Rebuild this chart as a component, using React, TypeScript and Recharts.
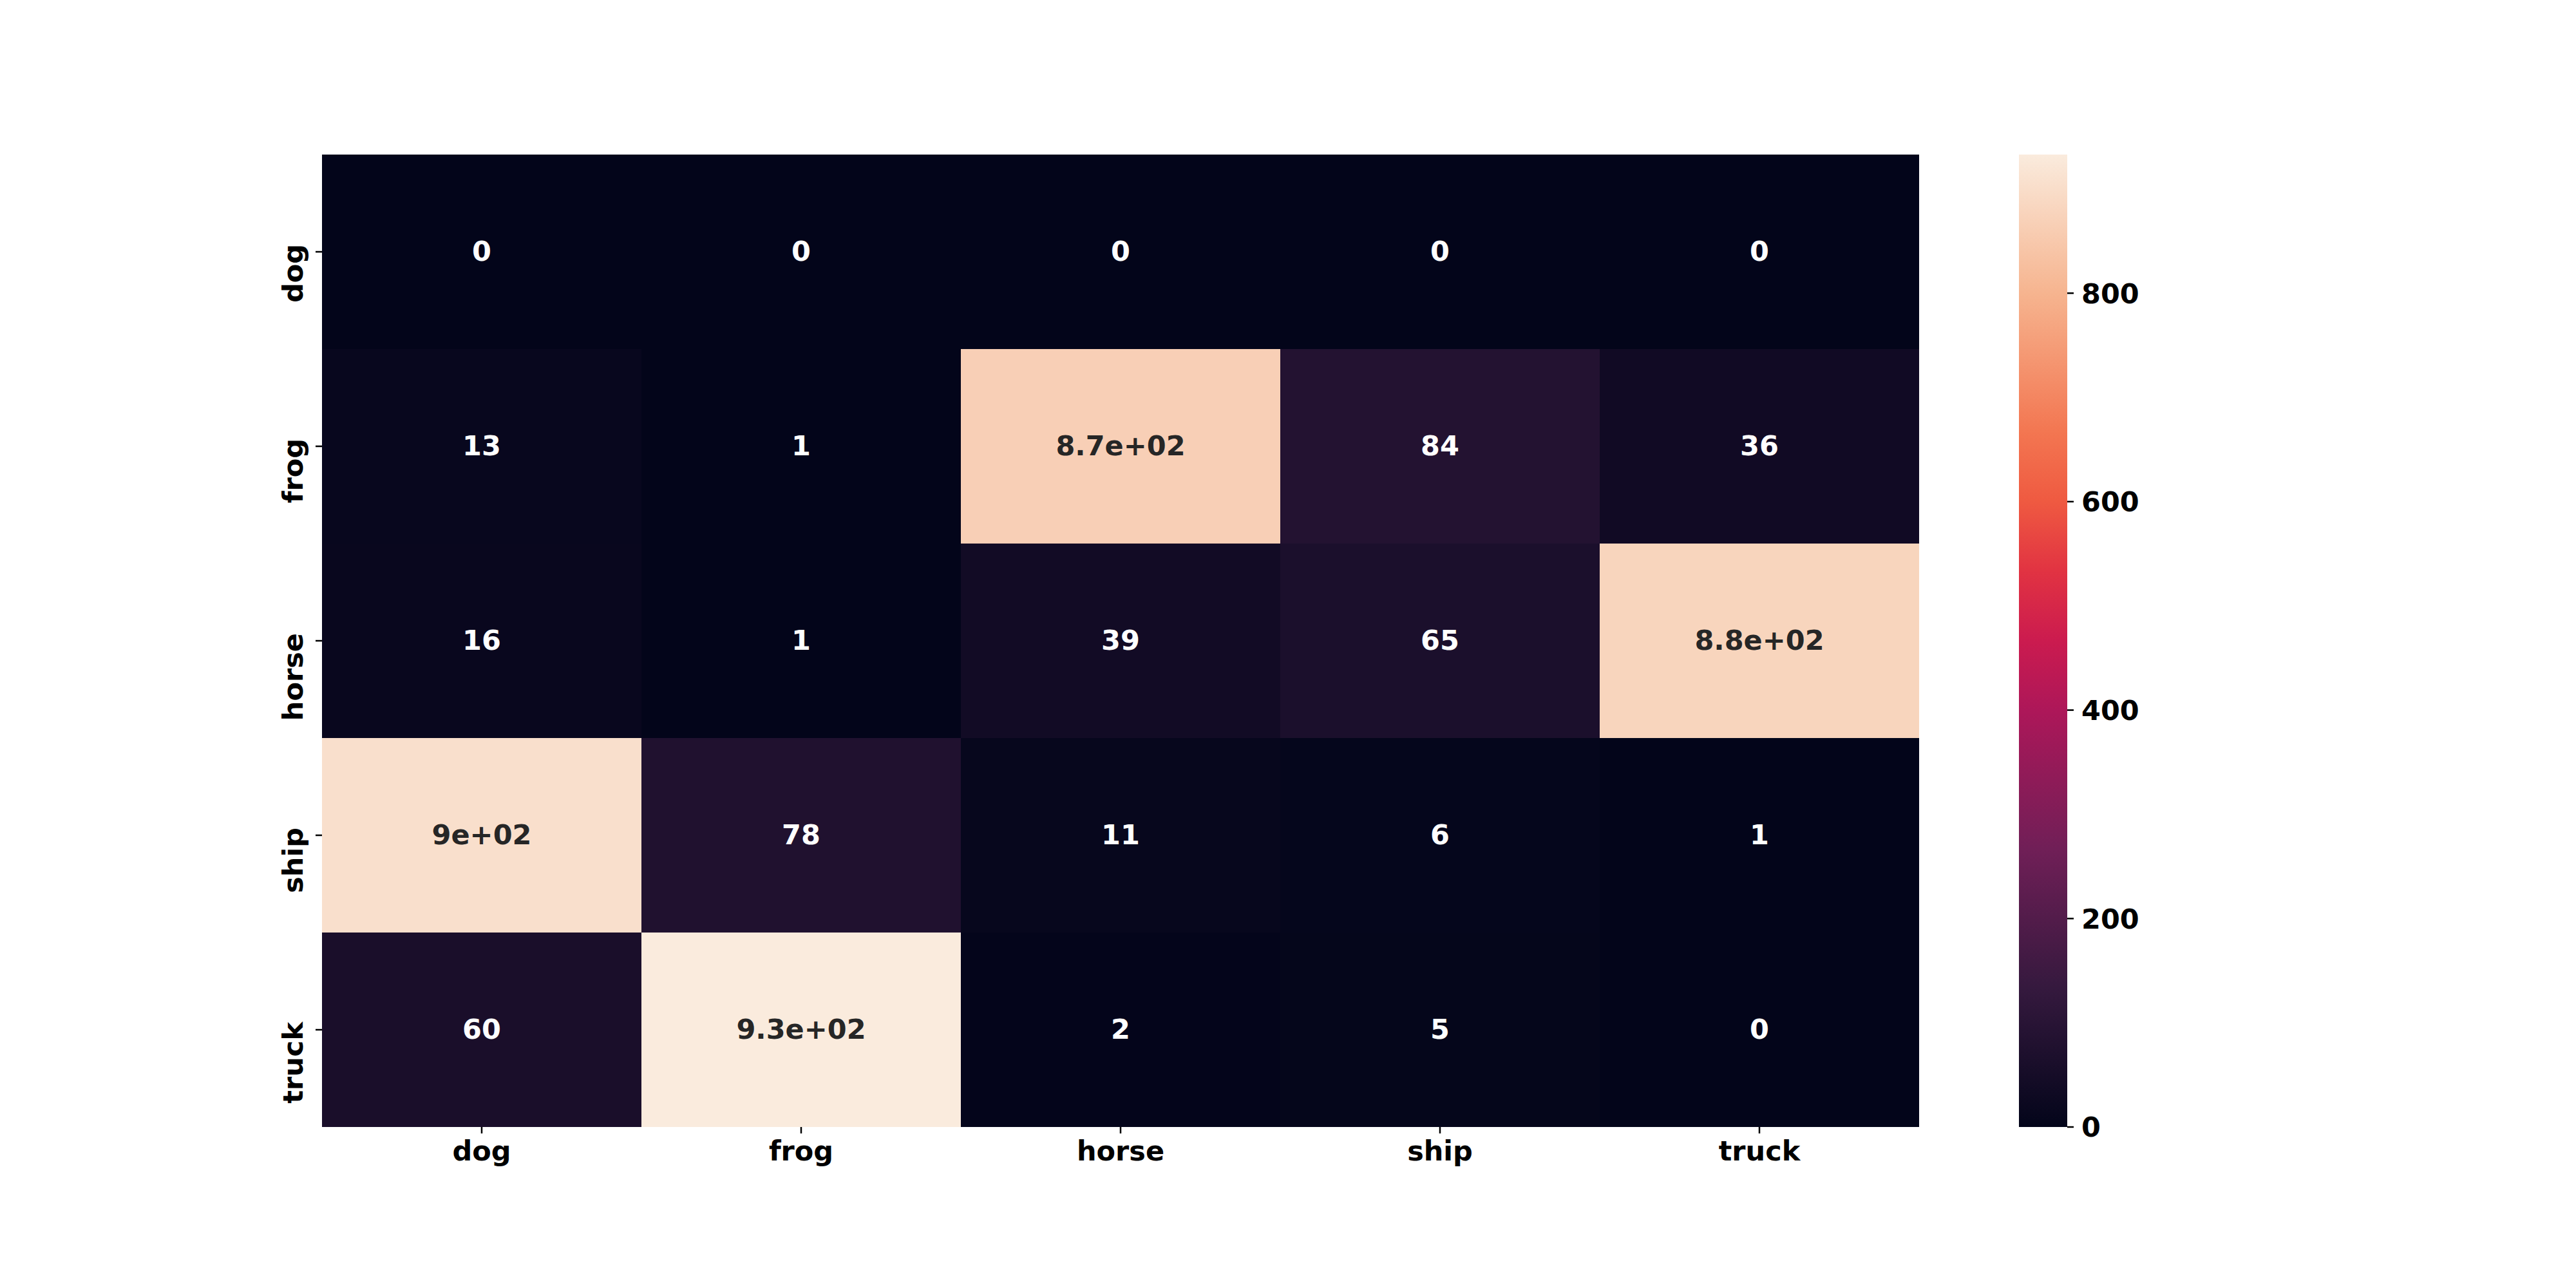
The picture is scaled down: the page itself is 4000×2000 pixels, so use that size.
import { BarChart, Bar, Cell, XAxis, YAxis, LabelList } from "recharts";

const ROWS = ["dog", "frog", "horse", "ship", "truck"];
const COLS = ["dog", "frog", "horse", "ship", "truck"];

// confusion counts, one array per true-label row
const DOG_ROW = [0, 0, 0, 0, 0];
const FROG_ROW = [13, 1, 866, 84, 36];
const HORSE_ROW = [16, 1, 39, 65, 879];
const SHIP_ROW = [904, 78, 11, 6, 1];
const TRUCK_ROW = [60, 933, 2, 5, 0];

const VMAX = 933;
const CB_TICKS = [0, 200, 400, 600, 800];

const FONT = "'DejaVu Sans', sans-serif";

// rocket colormap, sampled
const ROCKET: [number, string][] = [
  [0, "#03051a"],
  [1 / 7, "#35193e"],
  [2 / 7, "#701f57"],
  [3 / 7, "#ad1759"],
  [0.5, "#cb1b4f"],
  [4 / 7, "#e13342"],
  [0.644, "#ef5a41"],
  [5 / 7, "#f37651"],
  [6 / 7, "#f6b48f"],
  [1, "#faebdd"],
];

const hex = (c: string) => [1, 3, 5].map((i) => parseInt(c.slice(i, i + 2), 16));

function rocket(t: number) {
  t = Math.max(0, Math.min(1, t));
  for (let i = 1; i < ROCKET.length; i++) {
    const [p1, c1] = ROCKET[i];
    const [p0, c0] = ROCKET[i - 1];
    if (t <= p1) {
      const f = (t - p0) / (p1 - p0);
      const a = hex(c0);
      const b = hex(c1);
      const rgb = a.map((v, k) => Math.round(v + (b[k] - v) * f));
      return `rgb(${rgb.join(",")})`;
    }
  }
  return ROCKET[ROCKET.length - 1][1];
}

function textColor(v: number) {
  const c = rocket(v / VMAX).match(/\d+/g)!.map(Number);
  const lin = c.map((x) => {
    const s = x / 255;
    return s <= 0.03928 ? s / 12.92 : Math.pow((s + 0.055) / 1.055, 2.4);
  });
  const lum = 0.2126 * lin[0] + 0.7152 * lin[1] + 0.0722 * lin[2];
  return lum > 0.408 ? "#262626" : "#ffffff";
}

// matplotlib-style ".2g"
function fmt(v: number) {
  if (Math.abs(v) < 100) return String(v);
  const [m, e] = v.toPrecision(2).split("e");
  const mant = m.replace(/\.0$/, "");
  const sign = e[0];
  const digits = e.slice(1).padStart(2, "0");
  return `${mant}e${sign}${digits}`;
}

const COUNTS: Record<string, number[]> = {
  dog: DOG_ROW,
  frog: FROG_ROW,
  horse: HORSE_ROW,
  ship: SHIP_ROW,
  truck: TRUCK_ROW,
};

// one entry per column; each row is a unit-height stacked block
const data = COLS.map((col, ci) => {
  const d: Record<string, string | number> = { col };
  for (const r of ROWS) {
    d[r] = 1;
    d[`${r}_n`] = COUNTS[r][ci];
  }
  return d;
});

// stacking goes bottom-up, so start with the last row
const stackOrder = [...ROWS].reverse();

const cbData = [{ k: "cb", v: VMAX }];

function XTick({ x, y, payload }: any) {
  return (
    <text
      x={x}
      y={y}
      dy="0.71em"
      textAnchor="middle"
      fontFamily={FONT}
      fontWeight="bold"
      fontSize={43}
      fill="#000"
    >
      {payload.value}
    </text>
  );
}

function YTick({ x, y, payload }: any) {
  const label = ROWS[ROWS.length - 1 - Math.floor(payload.value)];
  const ty = y - 12;
  return (
    <text
      x={x}
      y={ty}
      transform={`rotate(-90 ${x} ${ty})`}
      textAnchor="end"
      fontFamily={FONT}
      fontWeight="bold"
      fontSize={43}
      fill="#000"
    >
      {label}
    </text>
  );
}

function CellLabel({ x, y, width, height, value }: any) {
  return (
    <text
      x={x + width / 2}
      y={y + height / 2}
      dy="0.33em"
      textAnchor="middle"
      fontFamily={FONT}
      fontWeight="bold"
      fontSize={43}
      fill={textColor(value)}
    >
      {fmt(value)}
    </text>
  );
}

export default function App() {
  const rowTicks = ROWS.map((_, i) => i + 0.5);
  return (
    <div style={{ position: "absolute", left: 0, top: 0, width: 4000, height: 2000, background: "#fff" }}>
      <div style={{ position: "absolute", left: 0, top: 0 }}>
        <BarChart
          width={3000}
          height={2000}
          data={data}
          margin={{ top: 240, right: 20, bottom: 150, left: 0 }}
          barCategoryGap={0}
          barGap={0}
        >
          <XAxis
            dataKey="col"
            type="category"
            height={100}
            axisLine={false}
            tickSize={10}
            tickMargin={11}
            tickLine={{ stroke: "#000", strokeWidth: 2.5 }}
            tick={<XTick />}
            interval={0}
          />
          <YAxis
            type="number"
            domain={[0, ROWS.length]}
            ticks={rowTicks}
            width={500}
            axisLine={false}
            tickSize={10}
            tickMargin={20}
            tickLine={{ stroke: "#000", strokeWidth: 2.5 }}
            tick={<YTick />}
            interval={0}
          />
          {stackOrder.map((r) => (
            <Bar key={r} dataKey={r} stackId="m" isAnimationActive={false}>
              {COLS.map((c, ci) => (
                <Cell key={c} fill={rocket(COUNTS[r][ci] / VMAX)} />
              ))}
              <LabelList dataKey={`${r}_n`} content={<CellLabel />} />
            </Bar>
          ))}
        </BarChart>
      </div>
      <div style={{ position: "absolute", left: 3135, top: 0 }}>
        <BarChart
          width={300}
          height={2000}
          data={cbData}
          margin={{ top: 240, right: 0, bottom: 250, left: 0 }}
          barCategoryGap={0}
        >
          <defs>
            <linearGradient id="rocketGrad" x1="0" y1="1" x2="0" y2="0">
              {ROCKET.map(([p, c]) => (
                <stop key={p} offset={p} stopColor={c} />
              ))}
            </linearGradient>
          </defs>
          <XAxis dataKey="k" hide />
          <YAxis
            orientation="right"
            type="number"
            domain={[0, VMAX]}
            ticks={CB_TICKS}
            width={225}
            axisLine={false}
            tickSize={10}
            tickMargin={12}
            tickLine={{ stroke: "#000", strokeWidth: 2.5 }}
            tick={{ fontFamily: FONT, fontWeight: "bold", fontSize: 43, fill: "#000" }}
            interval={0}
          />
          <Bar dataKey="v" fill="url(#rocketGrad)" isAnimationActive={false} />
        </BarChart>
      </div>
    </div>
  );
}
